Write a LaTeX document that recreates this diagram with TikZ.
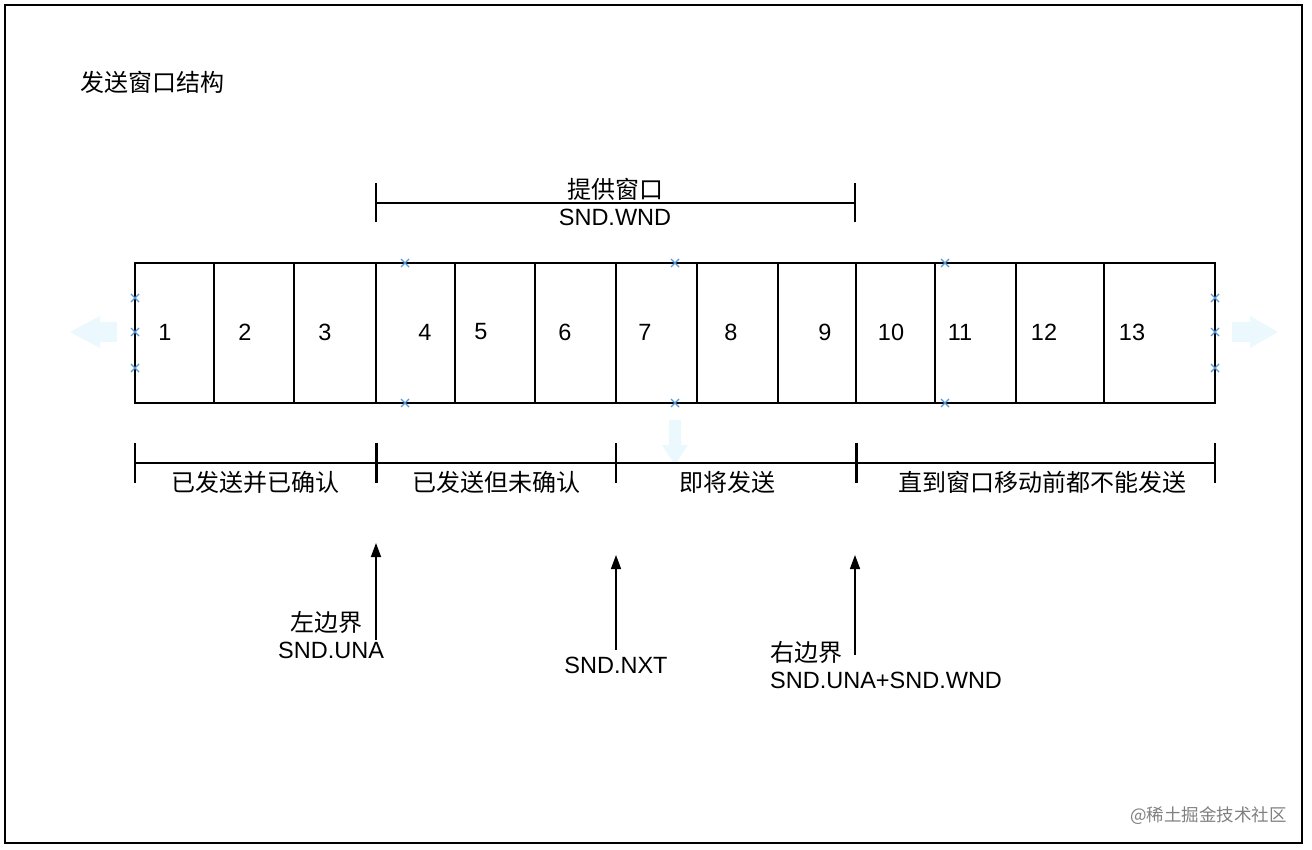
\documentclass[tikz,border=0pt]{standalone}
\usepackage{fontspec}
\setmainfont{Liberation Sans}
\newfontfamily\cjk{Noto Sans CJK SC}
\usetikzlibrary{arrows.meta}
\begin{document}
\begin{tikzpicture}[x=1pt,y=-1pt,
  lbl/.style={font=\fontsize{23.5}{27}\selectfont},
  cn/.style={font=\fontsize{24}{28}\selectfont\cjk},
  ghost/.style={fill=cyan!8,draw=none},
  up/.style={-{Triangle[length=14pt,width=10pt]},line width=1.5pt}]
\useasboundingbox (0,0) rectangle (1312,850);
\draw[line width=1.2pt] (5,5) rectangle (1302,843);
\node[cn,anchor=west,inner sep=0pt] (title) at (80,82) {发送窗口结构};
% cells
\foreach \a/\b in {135/214,214/294,294/376,376/455,455/535,535/616,616/697,697/778,778/856,856/935,935/1016,1016/1104,1104/1215}
  \draw[line width=2.5pt] (\a,263) rectangle (\b,403);
\foreach \x/\n in {165/1,245/2,325/3,425/4,481/5,565/6,645/7,731/8,825/9,891/10,960/11,1044/12,1132/13}
  \node[lbl] (n\n) at (\x,332) {\n};
% markers
\foreach \x/\y in {135/298,135/332,135/368,1215/298,1215/332,1215/368,405/263,405/403,675/263,675/403,945/263,945/403}
  \draw[cyan!60!blue!70,line width=1.3pt] (\x-4,\y-4) -- (\x+4,\y+4) (\x-4,\y+4) -- (\x+4,\y-4);
\fill[ghost] (117,328) -- (117,322) -- (100,322) -- (100,316) -- (70,332) -- (100,348) -- (100,342) -- (117,342) -- cycle;
\fill[ghost] (1232,322) -- (1250,322) -- (1250,316) -- (1278,332) -- (1250,348) -- (1250,342) -- (1232,342) -- cycle;
\fill[ghost] (669,420) -- (681,420) -- (681,445) -- (688,445) -- (675,465) -- (662,445) -- (669,445) -- cycle;
% top bracket
\draw[line width=1.5pt] (376,183) -- (376,222) (855,183) -- (855,222) (376,203) -- (855,203);
\node[cn] (wnd1) at (615,189) {提供窗口};
\node[lbl] (wnd2) at (615,217) {SND.WND};
% bottom brackets
\draw[line width=1.5pt] (135,463) -- (1215,463);
\foreach \x/\w in {135/1.5pt,376/3pt,616/1.5pt,856/3pt,1215/1.5pt}
  \draw[line width=\w] (\x,443) -- (\x,483);
\node[cn] (s1) at (255,482) {已发送并已确认};
\node[cn] (s2) at (496,482) {已发送但未确认};
\node[cn] (s3) at (727,482) {即将发送};
\node[cn] (s4) at (1042,482) {直到窗口移动前都不能发送};
% pointers
\coordinate (p1a) at (376,640); \coordinate (p1b) at (376,543);
\coordinate (p2a) at (616,650); \coordinate (p2b) at (616,555);
\coordinate (p3a) at (855,655); \coordinate (p3b) at (855,555);
\draw[up] (p1a) -- (p1b);
\draw[up] (p2a) -- (p2b);
\draw[up] (p3a) -- (p3b);
\node[cn,anchor=west,inner sep=0pt] (l1) at (290,622) {左边界};
\node[lbl,anchor=west,inner sep=0pt] (l1b) at (278,650) {SND.UNA};
\node[lbl] (l2) at (616,665) {SND.NXT};
\node[cn,anchor=west,inner sep=0pt] (l3) at (770,652) {右边界};
\node[lbl,anchor=west,inner sep=0pt] (l3b) at (770,680) {SND.UNA+SND.WND};
\node[anchor=west,text=gray,font=\fontsize{17.5}{20}\selectfont\cjk,inner sep=0pt] (wm) at (1130,816) {@稀土掘金技术社区};
\end{tikzpicture}
\end{document}
